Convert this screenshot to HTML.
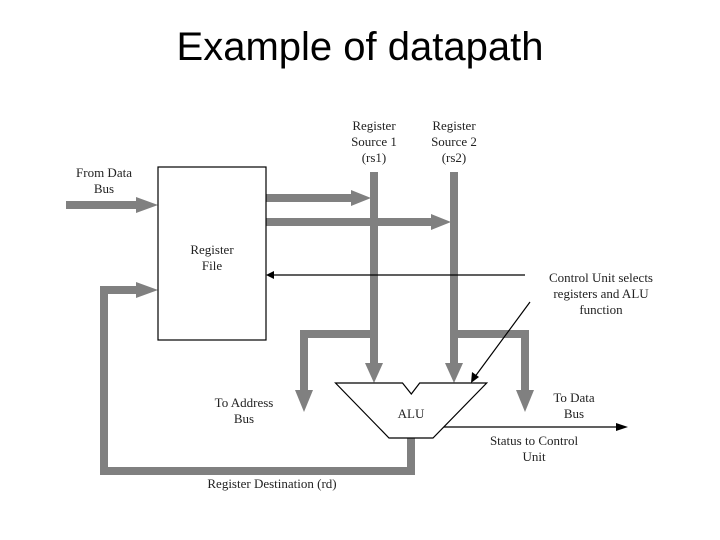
<!DOCTYPE html>
<html><head><meta charset="utf-8"><style>
html,body{margin:0;padding:0;background:#fff;width:720px;height:540px;overflow:hidden}
.t{position:absolute;left:0;width:720px;text-align:center;top:25px;font:40px "Liberation Sans",sans-serif;color:#000}
</style></head><body>
<div class="t">Example of datapath</div>
<svg width="720" height="540" style="position:absolute;left:0;top:0" font-family="Liberation Serif, serif" font-size="13" fill="#222">
<g fill="#808080" stroke="none">
<rect x="66" y="201" width="72" height="8"/><polygon points="136,197 158,205 136,213"/>
<rect x="266" y="194" width="86" height="8"/><polygon points="351,190 371,198 351,206"/>
<rect x="266" y="218" width="166" height="8"/><polygon points="431,214 451,222 431,230"/>
<rect x="370" y="172" width="8" height="192"/><polygon points="365,363 383,363 374,383"/>
<rect x="450" y="172" width="8" height="192"/><polygon points="445,363 463,363 454,383"/>
<rect x="300" y="330" width="74" height="8"/><rect x="300" y="330" width="8" height="62"/><polygon points="295,390 313,390 304,412"/>
<rect x="454" y="330" width="75" height="8"/><rect x="521" y="330" width="8" height="62"/><polygon points="516,390 534,390 525,412"/>
<rect x="407" y="437" width="8" height="38"/><rect x="100" y="467" width="315" height="8"/><rect x="100" y="286" width="8" height="189"/><rect x="100" y="286" width="38" height="8"/><polygon points="136,282 158,290 136,298"/>
</g>
<rect x="158" y="167" width="108" height="173" fill="#fff" stroke="#000" stroke-width="1.2"/>
<g stroke="#000" stroke-width="1.2" fill="none">
<line x1="525" y1="275" x2="272" y2="275"/>
<line x1="530" y1="302" x2="474" y2="378"/>
<line x1="443" y1="427" x2="620" y2="427"/>
</g>
<g fill="#000">
<polygon points="266,275 274,271 274,279"/>
<polygon points="471,383 472,372 479,377"/>
<polygon points="628,427 616,423 616,431"/>
</g>
<polygon points="335.5,383 402.5,383 411.3,394 419.7,383 486.7,383 433,438 389,438" fill="#fff" stroke="#000" stroke-width="1.2"/>
<g text-anchor="middle">
<text x="411" y="418">ALU</text>
<text x="104" y="177">From Data</text><text x="104" y="193">Bus</text>
<text x="212" y="254">Register</text><text x="212" y="270">File</text>
<text x="374" y="130">Register</text><text x="374" y="146">Source 1</text><text x="374" y="162">(rs1)</text>
<text x="454" y="130">Register</text><text x="454" y="146">Source 2</text><text x="454" y="162">(rs2)</text>
<text x="601" y="282">Control Unit selects</text><text x="601" y="298">registers and ALU</text><text x="601" y="314">function</text>
<text x="244" y="407">To Address</text><text x="244" y="423">Bus</text>
<text x="574" y="402">To Data</text><text x="574" y="418">Bus</text>
<text x="534" y="445">Status to Control</text><text x="534" y="461">Unit</text>
<text x="272" y="488">Register Destination (rd)</text>
</g>
</svg>
</body></html>
